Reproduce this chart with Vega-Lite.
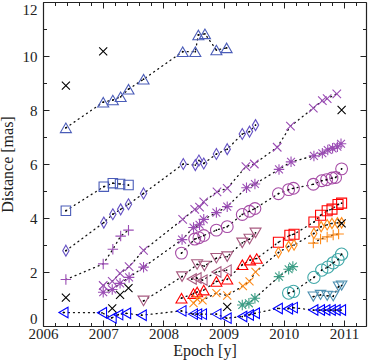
{
  "$schema": "https://vega.github.io/schema/vega-lite/v6.json",
  "width": 323,
  "height": 324,
  "autosize": "none",
  "padding": {"left": 43, "top": 2, "right": 2, "bottom": 35},
  "background": "white",
  "config": {
    "view": {"stroke": null},
    "axis": {
      "labelFont": "Liberation Serif", "titleFont": "Liberation Serif",
      "labelFontSize": 15, "titleFontSize": 16, "titleFontWeight": "normal",
      "labelColor": "#222", "titleColor": "#222", "domainColor": "#222", "tickColor": "#222",
      "grid": false, "domainWidth": 1.2, "tickWidth": 1, "labelOverlap": false, "labelFlush": false
    }
  },
  "data": {"values": [
    {"s":"A","g":"A","x":2006.38,"y":7.34},{"s":"A","g":"A","x":2007.0,"y":8.29},{"s":"A","g":"A","x":2007.16,"y":8.37},{"s":"A","g":"A","x":2007.29,"y":8.49},{"s":"A","g":"A","x":2007.42,"y":8.77},{"s":"A","g":"A","x":2007.67,"y":9.14},{"s":"A","g":"A","x":2008.32,"y":10.16},{"s":"A","g":"A","x":2008.53,"y":10.16},{"s":"A","g":"A","x":2008.58,"y":10.78},{"s":"A","g":"A","x":2008.69,"y":10.82},{"s":"A","g":"A","x":2008.88,"y":10.22},{"s":"A","g":"A","x":2009.05,"y":10.3},
    {"s":"B","g":"B","x":2006.38,"y":4.27},{"s":"B","g":"B","x":2007.01,"y":5.16},{"s":"B","g":"B","x":2007.16,"y":5.29},{"s":"B","g":"B","x":2007.28,"y":5.26},{"s":"B","g":"B","x":2007.42,"y":5.22},
    {"s":"C","g":"C","x":2006.38,"y":2.79},{"s":"C","g":"C","x":2007.01,"y":3.83},{"s":"C","g":"C","x":2007.16,"y":4.14},{"s":"C","g":"C","x":2007.29,"y":4.32},{"s":"C","g":"C","x":2007.42,"y":4.51},{"s":"C","g":"C","x":2007.67,"y":4.91},{"s":"C","g":"C","x":2008.33,"y":6.0},{"s":"C","g":"C","x":2008.53,"y":5.96},{"s":"C","g":"C","x":2008.59,"y":6.13},{"s":"C","g":"C","x":2008.67,"y":6.02},{"s":"C","g":"C","x":2008.88,"y":6.37},{"s":"C","g":"C","x":2009.06,"y":6.55},{"s":"C","g":"C","x":2009.31,"y":7.11},{"s":"C","g":"C","x":2009.43,"y":7.2},{"s":"C","g":"C","x":2009.53,"y":7.44},
    {"s":"D","g":"D","x":2006.38,"y":1.72},{"s":"D","g":"D","x":2007.0,"y":2.3},{"s":"D","g":"D","x":2007.16,"y":2.84},{"s":"D","g":"D","x":2007.29,"y":3.33},{"s":"D","g":"D","x":2007.42,"y":3.55},
    {"s":"X","g":"X","x":2007.0,"y":1.5},{"s":"X","g":"X","x":2007.15,"y":1.65},{"s":"X","g":"X","x":2007.28,"y":1.95},{"s":"X","g":"X","x":2007.43,"y":2.2},{"s":"X","g":"X","x":2007.67,"y":2.8},{"s":"X","g":"X","x":2008.32,"y":3.95},{"s":"X","g":"X","x":2008.52,"y":4.32},{"s":"X","g":"X","x":2008.6,"y":4.4},{"s":"X","g":"X","x":2008.67,"y":4.6},{"s":"X","g":"X","x":2008.89,"y":4.97},{"s":"X","g":"X","x":2009.06,"y":5.1},{"s":"X","g":"X","x":2009.37,"y":5.9},{"s":"X","g":"X","x":2009.51,"y":6.0},{"s":"X","g":"X","x":2009.89,"y":6.62},{"s":"X","g":"X","x":2010.11,"y":7.4},{"s":"X","g":"X","x":2010.49,"y":8.07},{"s":"X","g":"X","x":2010.64,"y":8.35},{"s":"X","g":"X","x":2010.72,"y":8.42},{"s":"X","g":"X","x":2010.88,"y":8.6},
    {"s":"S","g":"S","x":2007.0,"y":1.25},{"s":"S","g":"S","x":2007.15,"y":1.35},{"s":"S","g":"S","x":2007.28,"y":1.58},{"s":"S","g":"S","x":2007.43,"y":1.8},{"s":"S","g":"S","x":2007.67,"y":2.18},{"s":"S","g":"S","x":2008.31,"y":3.2},{"s":"S","g":"S","x":2008.5,"y":3.65},{"s":"S","g":"S","x":2008.6,"y":3.75},{"s":"S","g":"S","x":2008.67,"y":3.95},{"s":"S","g":"S","x":2008.88,"y":4.2},{"s":"S","g":"S","x":2009.06,"y":4.42},{"s":"S","g":"S","x":2009.38,"y":5.12},{"s":"S","g":"S","x":2009.52,"y":5.26},{"s":"S","g":"S","x":2009.92,"y":5.8},{"s":"S","g":"S","x":2010.12,"y":6.08},{"s":"S","g":"S","x":2010.5,"y":6.3},{"s":"S","g":"S","x":2010.64,"y":6.4},{"s":"S","g":"S","x":2010.73,"y":6.52},{"s":"S","g":"S","x":2010.81,"y":6.58},{"s":"S","g":"S","x":2010.89,"y":6.64},{"s":"S","g":"S","x":2010.95,"y":6.75},
    {"s":"Ci","g":"Ci","x":2008.3,"y":2.7},{"s":"Ci","g":"Ci","x":2008.52,"y":3.22},{"s":"Ci","g":"Ci","x":2008.59,"y":3.27},{"s":"Ci","g":"Ci","x":2008.67,"y":3.35},{"s":"Ci","g":"Ci","x":2008.88,"y":3.55},{"s":"Ci","g":"Ci","x":2009.06,"y":3.68},{"s":"Ci","g":"Ci","x":2009.31,"y":4.13},{"s":"Ci","g":"Ci","x":2009.43,"y":4.25},{"s":"Ci","g":"Ci","x":2009.52,"y":4.35},{"s":"Ci","g":"Ci","x":2009.91,"y":4.9},{"s":"Ci","g":"Ci","x":2010.08,"y":5.05},{"s":"Ci","g":"Ci","x":2010.16,"y":5.1},{"s":"Ci","g":"Ci","x":2010.49,"y":5.25},{"s":"Ci","g":"Ci","x":2010.63,"y":5.38},{"s":"Ci","g":"Ci","x":2010.71,"y":5.42},{"s":"Ci","g":"Ci","x":2010.8,"y":5.48},{"s":"Ci","g":"Ci","x":2010.86,"y":5.5},{"s":"Ci","g":"Ci","x":2010.96,"y":5.82},
    {"s":"MD","g":"MD","x":2007.67,"y":0.93},{"s":"MD","g":"MD","x":2008.31,"y":1.83},{"s":"MD","g":"MD","x":2008.56,"y":2.28},{"s":"MD","g":"MD","x":2008.68,"y":2.22},{"s":"MD","g":"MD","x":2008.88,"y":2.51},{"s":"MD","g":"MD","x":2009.06,"y":2.57},{"s":"MD","g":"MD","x":2009.31,"y":3.08},{"s":"MD","g":"MD","x":2009.43,"y":3.22},{"s":"MD","g":"MD","x":2009.53,"y":3.45},
    {"s":"ML","g":"ML","x":2008.47,"y":1.74},{"s":"ML","g":"ML","x":2008.55,"y":1.78},{"s":"ML","g":"ML","x":2008.65,"y":1.7},{"s":"ML","g":"ML","x":2008.88,"y":2.0},{"s":"ML","g":"ML","x":2009.05,"y":2.07},
    {"s":"R1","g":"R","x":2008.3,"y":1.03},{"s":"R1","g":"R","x":2008.5,"y":1.2},{"s":"R1","g":"R","x":2008.56,"y":1.26},{"s":"R1","g":"R","x":2008.67,"y":1.33},{"s":"R1","g":"R","x":2008.88,"y":1.65},{"s":"R1","g":"R","x":2009.06,"y":1.73},{"s":"R1","g":"R","x":2009.31,"y":2.27},{"s":"R1","g":"R","x":2009.44,"y":2.44},{"s":"R1","g":"R","x":2009.55,"y":2.5},
    {"s":"R2","g":"R","x":2009.91,"y":3.1},{"s":"R2","g":"R","x":2010.1,"y":3.36},{"s":"R2","g":"R","x":2010.17,"y":3.4},{"s":"R2","g":"R","x":2010.5,"y":3.85},{"s":"R2","g":"R","x":2010.61,"y":4.1},{"s":"R2","g":"R","x":2010.72,"y":4.27},{"s":"R2","g":"R","x":2010.8,"y":4.33},{"s":"R2","g":"R","x":2010.9,"y":4.5},{"s":"R2","g":"R","x":2010.96,"y":4.55},
    {"s":"O1","g":"O","x":2008.5,"y":0.85},{"s":"O1","g":"O","x":2008.56,"y":1.0},{"s":"O1","g":"O","x":2008.65,"y":0.95},{"s":"O1","g":"O","x":2008.88,"y":1.22},{"s":"O1","g":"O","x":2009.06,"y":1.13},{"s":"O1","g":"O","x":2009.32,"y":1.48},{"s":"O1","g":"O","x":2009.43,"y":1.65},{"s":"O1","g":"O","x":2009.53,"y":2.0},
    {"s":"O2","g":"O","x":2009.91,"y":2.72},{"s":"O2","g":"O","x":2010.08,"y":2.95},{"s":"O2","g":"O","x":2010.17,"y":3.0},{"s":"O2","g":"O","x":2010.5,"y":3.43},{"s":"O2","g":"O","x":2010.62,"y":3.68},{"s":"O2","g":"O","x":2010.72,"y":3.75},{"s":"O2","g":"O","x":2010.8,"y":3.8},{"s":"O2","g":"O","x":2010.89,"y":3.82},{"s":"O2","g":"O","x":2010.96,"y":3.82},
    {"s":"O3","g":"O3","x":2010.49,"y":3.07},{"s":"O3","g":"O3","x":2010.61,"y":3.22},{"s":"O3","g":"O3","x":2010.72,"y":3.3},{"s":"O3","g":"O3","x":2010.82,"y":3.37},{"s":"O3","g":"O3","x":2010.91,"y":3.41},
    {"s":"G","g":"G","x":2009.31,"y":0.78},{"s":"G","g":"G","x":2009.42,"y":0.84},{"s":"G","g":"G","x":2009.52,"y":1.03},{"s":"G","g":"G","x":2009.92,"y":1.83},{"s":"G","g":"G","x":2010.08,"y":2.1},{"s":"G","g":"G","x":2010.15,"y":2.2},
    {"s":"T","g":"T","x":2010.08,"y":1.22},{"s":"T","g":"T","x":2010.16,"y":1.28},{"s":"T","g":"T","x":2010.5,"y":1.8},{"s":"T","g":"T","x":2010.63,"y":2.07},{"s":"T","g":"T","x":2010.73,"y":2.18},{"s":"T","g":"T","x":2010.82,"y":2.34},{"s":"T","g":"T","x":2010.9,"y":2.46},{"s":"T","g":"T","x":2010.96,"y":2.66},
    {"s":"SD","g":"SD","x":2010.49,"y":1.09},{"s":"SD","g":"SD","x":2010.61,"y":1.15},{"s":"SD","g":"SD","x":2010.72,"y":1.12},{"s":"SD","g":"SD","x":2010.82,"y":1.1},{"s":"SD","g":"SD","x":2010.91,"y":1.46},{"s":"SD","g":"SD","x":2010.96,"y":1.5},
    {"s":"BL","g":"BL","x":2006.34,"y":0.5},{"s":"BL","g":"BL","x":2006.98,"y":0.49},{"s":"BL","g":"BL","x":2007.14,"y":0.3},{"s":"BL","g":"BL","x":2007.25,"y":0.42},{"s":"BL","g":"BL","x":2007.38,"y":0.47},{"s":"BL","g":"BL","x":2007.64,"y":0.4},{"s":"BL","g":"BL","x":2008.3,"y":0.56},{"s":"BL","g":"BL","x":2008.49,"y":0.44},{"s":"BL","g":"BL","x":2008.56,"y":0.44},{"s":"BL","g":"BL","x":2008.64,"y":0.44},{"s":"BL","g":"BL","x":2008.88,"y":0.44},{"s":"BL","g":"BL","x":2009.05,"y":0.29},{"s":"BL","g":"BL","x":2009.31,"y":0.35},{"s":"BL","g":"BL","x":2009.42,"y":0.41},{"s":"BL","g":"BL","x":2009.52,"y":0.47},{"s":"BL","g":"BL","x":2009.9,"y":0.65},{"s":"BL","g":"BL","x":2010.07,"y":0.64},{"s":"BL","g":"BL","x":2010.15,"y":0.68},{"s":"BL","g":"BL","x":2010.49,"y":0.59},{"s":"BL","g":"BL","x":2010.6,"y":0.59},{"s":"BL","g":"BL","x":2010.69,"y":0.59},{"s":"BL","g":"BL","x":2010.78,"y":0.59},{"s":"BL","g":"BL","x":2010.86,"y":0.59},{"s":"BL","g":"BL","x":2010.95,"y":0.59},
    {"s":"K","x":2006.38,"y":8.9},{"s":"K","x":2007.0,"y":10.17},{"s":"K","x":2006.38,"y":1.05},{"s":"K","x":2007.15,"y":0.65},{"s":"K","x":2007.28,"y":1.15},{"s":"K","x":2007.42,"y":1.4},{"s":"K","x":2009.06,"y":0.71},{"s":"K","x":2010.96,"y":8.0},{"s":"K","x":2010.96,"y":3.8}
  ]},
  "layer": [
    {
      "transform": [{"filter": "datum.g != null"}],
      "mark": {"type": "line", "strokeDash": [1, 4], "strokeWidth": 1.3, "color": "#111", "strokeCap": "round"},
      "encoding": {
        "x": {"field": "x", "type": "quantitative", "scale": {"domain": [2006, 2011.365], "nice": false, "zero": false},
          "axis": {"orient": "bottom", "values": [2006,2006.2,2006.4,2006.6,2006.8,2007,2007.2,2007.4,2007.6,2007.8,2008,2008.2,2008.4,2008.6,2008.8,2009,2009.2,2009.4,2009.6,2009.8,2010,2010.2,2010.4,2010.6,2010.8,2011,2011.2],
            "tickSize": {"condition": {"test": "abs(datum.value - round(datum.value)) < 0.01", "value": -6}, "value": -3.5},
            "labelExpr": "abs(datum.value - round(datum.value)) < 0.01 ? format(datum.value, 'd') : ''",
            "labelPadding": 6, "title": "Epoch [y]", "titlePadding": -1}},
        "y": {"field": "y", "type": "quantitative", "scale": {"domain": [0, 12], "nice": false, "zero": false},
          "axis": {"orient": "left", "values": [0,1,2,3,4,5,6,7,8,9,10,11,12],
            "tickSize": {"condition": {"test": "datum.value % 2 == 0", "value": -6}, "value": -3.5},
            "labelExpr": "datum.value % 2 == 0 ? datum.label : ''",
            "labelBaseline": {"condition": [{"test": "datum.value == 12", "value": "top"}, {"test": "datum.value == 0", "value": "bottom"}], "value": "middle"},
            "labelPadding": 12, "title": "Distance [mas]", "titlePadding": 7}},
        "detail": {"field": "g"},
        "order": {"field": "x"}
      }
    },
    {
      "mark": {"type": "point", "filled": false, "strokeWidth": 1.1, "opacity": 1},
      "encoding": {
        "x": {"field": "x", "type": "quantitative", "scale": {"domain": [2006, 2011.365], "nice": false, "zero": false},
          "axis": {"orient": "top", "values": [2006,2006.2,2006.4,2006.6,2006.8,2007,2007.2,2007.4,2007.6,2007.8,2008,2008.2,2008.4,2008.6,2008.8,2009,2009.2,2009.4,2009.6,2009.8,2010,2010.2,2010.4,2010.6,2010.8,2011,2011.2],
            "tickSize": {"condition": {"test": "abs(datum.value - round(datum.value)) < 0.01", "value": -6}, "value": -3.5},
            "labels": false, "title": null}},
        "y": {"field": "y", "type": "quantitative", "scale": {"domain": [0, 12], "nice": false, "zero": false},
          "axis": {"orient": "right", "values": [0,1,2,3,4,5,6,7,8,9,10,11,12],
            "tickSize": {"condition": {"test": "datum.value % 2 == 0", "value": -6}, "value": -3.5},
            "labels": false, "title": null}},
        "shape": {"field": "s", "type": "nominal", "legend": null,
          "scale": {"domain": ["A","B","C","D","X","S","Ci","MD","ML","R1","R2","O1","O2","O3","G","T","SD","BL","K"],
            "range": ["triangle-up","square","M0,-1L0.58,0L0,1L-0.58,0Z","M-1,0L1,0M0,-1L0,1","M-0.85,-0.85L0.85,0.85M-0.85,0.85L0.85,-0.85","M-1,0L1,0M0,-1L0,1M-0.75,-0.75L0.75,0.75M-0.75,0.75L0.75,-0.75","circle","triangle-down","triangle-left","triangle-up","square","M-0.85,-0.85L0.85,0.85M-0.85,0.85L0.85,-0.85","M0,-1L0.58,0L0,1L-0.58,0Z","M-1,0L1,0M0,-1L0,1","M-1,0L1,0M0,-1L0,1M-0.75,-0.75L0.75,0.75M-0.75,0.75L0.75,-0.75","circle","triangle-down","triangle-left","M-0.85,-0.85L0.85,0.85M-0.85,0.85L0.85,-0.85"]}},
        "color": {"field": "s", "type": "nominal", "legend": null,
          "scale": {"domain": ["A","B","C","D","X","S","Ci","MD","ML","R1","R2","O1","O2","O3","G","T","SD","BL","K"],
            "range": ["#4a5cb8","#4a5cb8","#6552c4","#9b4db5","#9b4db5","#9b4db5","#a64ca6","#a85a80","#a85a80","#ff0000","#ff0000","#ff8c1a","#ff8c1a","#ff8c1a","#3d9e86","#40a8a8","#4d8fb0","#0000ff","#000000"]}},
        "size": {"field": "s", "type": "ordinal", "legend": null,
          "scale": {"type": "ordinal", "domain": ["A","B","C","D","X","S","Ci","MD","ML","R1","R2","O1","O2","O3","G","T","SD","BL","K"],
            "range": [121,90,120,110,100,110,140,121,110,121,100,90,110,110,110,150,110,110,90]}}
      }
    },
    {
      "transform": [{"filter": "indexof(['A','B','C','Ci','MD','ML','R1','R2','O2','T','SD','BL'], datum.s) >= 0"}],
      "mark": {"type": "point", "filled": true, "size": 3, "color": "#000", "opacity": 1},
      "encoding": {
        "x": {"field": "x", "type": "quantitative", "scale": {"domain": [2006, 2011.365], "nice": false, "zero": false}, "axis": null},
        "y": {"field": "y", "type": "quantitative", "scale": {"domain": [0, 12], "nice": false, "zero": false}, "axis": null}
      }
    }
  ],
  "resolve": {"axis": {"x": "independent", "y": "independent"}}
}
